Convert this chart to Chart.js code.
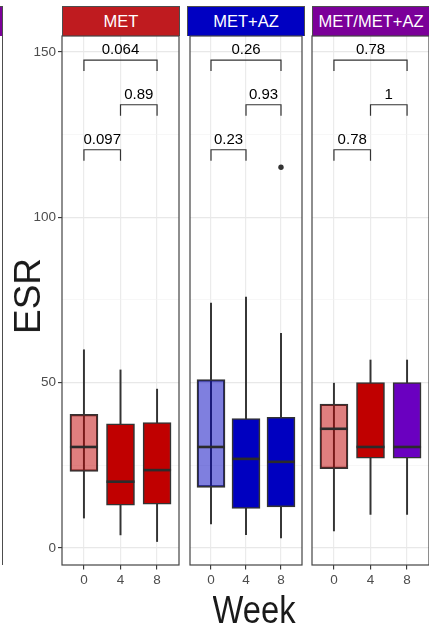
<!DOCTYPE html>
<html>
<head>
<meta charset="utf-8">
<script src="https://cdn.jsdelivr.net/npm/chart.js@4.4.1/dist/chart.umd.min.js"></script>
<style>
  html, body { margin: 0; padding: 0; background: #fff; }
  body { width: 429px; height: 627px; position: relative; overflow: hidden;
         font-family: 'Liberation Sans', Arial, sans-serif; }
  canvas { position: absolute; top: 20px; }
  .strip { position: absolute; top: 6px; height: 30px; box-sizing: border-box;
           border: 1px solid #4d4d4d; border-bottom: none; color: #fff;
           font-size: 16.5px; line-height: 29px; text-align: center; white-space: nowrap; overflow: hidden; }
  #edge { position: absolute; left: 2px; top: 36px; width: 1px; height: 529px; background: #4d4d4d; }
  #ytitle { position: absolute; left: 28px; top: 296px; transform: translate(-50%, -50%) rotate(-90deg);
            font-size: 37px; color: #1a1a1a; white-space: nowrap; }
  #xtitle { position: absolute; left: 254px; top: 591px; transform: translateX(-50%) scaleX(0.86);
            font-size: 38px; line-height: 38px; color: #1a1a1a; white-space: nowrap; }
</style>
</head>
<body>
<div class="strip" style="left:-120px;width:123px;background:#7b0099;"></div>
<div id="edge"></div>
<div class="strip" id="s0" style="left:62px;width:118px;"></div>
<div class="strip" id="s1" style="left:187px;width:118px;"></div>
<div class="strip" id="s2" style="left:312px;width:118px;"></div>
<canvas id="c0" width="180" height="590" style="left:0px"></canvas>
<canvas id="c1" width="120" height="590" style="left:186px"></canvas>
<canvas id="c2" width="120" height="590" style="left:311px"></canvas>
<div id="ytitle">ESR</div>
<div id="xtitle">Week</div>
<script>
// ESR by week of treatment, one facet per treatment group
const weeks = ['0', '4', '8'];
const groups = ['MET', 'MET+AZ', 'MET/MET+AZ'];

// box-plot statistics, rows = groups, columns = weeks
const lowerWhisker = [[9.0, 3.9, 1.9], [7.2, 4.0, 3.0], [5.1, 10.1, 10.1]];
const lowerQuartile = [[23.1, 12.9, 13.2], [18.3, 11.9, 12.4], [23.9, 27.1, 27.1]];
const medianValue = [[30.5, 20.0, 23.5], [30.5, 26.9, 26.0], [36.0, 30.5, 30.5]];
const upperQuartile = [[40.4, 37.5, 37.9], [50.9, 39.1, 39.5], [43.5, 50.0, 50.0]];
const upperWhisker = [[59.9, 53.8, 48.0], [74.0, 75.8, 64.9], [49.8, 56.8, 56.8]];

// points beyond the whiskers
const outlierGroup = [1];
const outlierWeek = [2];
const outlierValue = [115.1];

// pairwise week comparisons and their p-values
const comparisons = [[0, 1], [1, 2], [0, 2]];
const bracketHeight = [120.4, 134.0, 147.5];
const pValues = [['0.097', '0.89', '0.064'], ['0.23', '0.93', '0.26'], ['0.78', '1', '0.78']];

// y axis ticks
const yTicks = [0, 25, 50, 75, 100, 125, 150];
const yLabelled = [0, 50, 100, 150];

// ---- styling ----
const stripColors = ['#bf1b1f', '#0000c2', '#7b0099'];
const boxFills = [
  ['rgba(192,0,0,0.5)', '#c00000', '#c00000'],
  ['rgba(0,0,192,0.5)', '#0000c0', '#0000c0'],
  ['rgba(192,0,0,0.5)', '#c00000', '#6a00c0']
];
const ink = '#333333';
const tickFont = { family: "'Liberation Sans', Arial, sans-serif", size: 13.5 };
const tipDrop = 3.3;

groups.forEach((name, g) => {
  const s = document.getElementById('s' + g);
  s.textContent = name;
  s.style.background = stripColors[g];
});

function panelPlugin(g) {
  return {
    id: 'panelDecor' + g,
    afterDatasetsDraw(chart) {
      const { ctx, scales: { x, y } } = chart;
      const boxes = chart.getDatasetMeta(1).data;
      ctx.save();
      ctx.strokeStyle = '#2b2b2b';
      ctx.lineWidth = 2.6;
      weeks.forEach((w, i) => {
        const cx = x.getPixelForValue(i + 1);
        const half = boxes[i].width / 2;
        const py = y.getPixelForValue(medianValue[g][i]);
        ctx.beginPath();
        ctx.moveTo(cx - half, py);
        ctx.lineTo(cx + half, py);
        ctx.stroke();
      });
      ctx.restore();
    },
    afterDraw(chart) {
      const { ctx, chartArea: a, scales: { x, y } } = chart;
      ctx.save();
      // significance brackets
      ctx.strokeStyle = ink;
      ctx.lineWidth = 1.2;
      ctx.fillStyle = '#000';
      ctx.font = "15px 'Liberation Sans', Arial, sans-serif";
      ctx.textAlign = 'center';
      ctx.textBaseline = 'alphabetic';
      comparisons.forEach((pair, k) => {
        const x1 = x.getPixelForValue(pair[0] + 1);
        const x2 = x.getPixelForValue(pair[1] + 1);
        const yTop = y.getPixelForValue(bracketHeight[k]);
        const yLeg = y.getPixelForValue(bracketHeight[k] - tipDrop);
        ctx.beginPath();
        ctx.moveTo(x1, yLeg);
        ctx.lineTo(x1, yTop);
        ctx.lineTo(x2, yTop);
        ctx.lineTo(x2, yLeg);
        ctx.stroke();
        ctx.fillText(pValues[g][k], (x1 + x2) / 2, yTop - 6);
      });
      // panel frame
      ctx.strokeStyle = '#444';
      ctx.lineWidth = 1.2;
      ctx.strokeRect(a.left, a.top, a.right - a.left, a.bottom - a.top);
      ctx.restore();
    }
  };
}

function makePanel(g) {
  const first = g === 0;
  const datasets = [
    {
      type: 'bar',
      label: 'whisker',
      data: weeks.map((w, i) => ({ x: i + 1, y: [lowerWhisker[g][i], upperWhisker[g][i]] })),
      backgroundColor: ink,
      borderWidth: 0,
      barThickness: 1.3,
      grouped: false,
      order: 3
    },
    {
      type: 'bar',
      label: 'box',
      data: weeks.map((w, i) => ({ x: i + 1, y: [lowerQuartile[g][i], upperQuartile[g][i]] })),
      backgroundColor: boxFills[g],
      borderColor: ink,
      borderWidth: 1.6,
      borderSkipped: false,
      barThickness: 28,
      grouped: false,
      order: 2
    },
    {
      type: 'scatter',
      label: 'outlier',
      data: outlierGroup.map((og, j) => og === g ? { x: outlierWeek[j] + 1, y: outlierValue[j] } : null).filter(Boolean),
      pointRadius: 2.7,
      pointBackgroundColor: ink,
      pointBorderWidth: 0,
      order: 1
    }
  ];
  return new Chart(document.getElementById('c' + g), {
    type: 'bar',
    data: { datasets },
    options: {
      responsive: false,
      animation: false,
      events: [],
      layout: { padding: { top: 16, right: first ? 1 : 2, left: 0, bottom: 0 } },
      plugins: { legend: { display: false }, tooltip: { enabled: false } },
      scales: {
        x: {
          type: 'linear',
          min: 0.4,
          max: 3.6,
          offset: false,
          afterBuildTicks: (s) => { s.ticks = weeks.map((w, i) => ({ value: i + 1 })); },
          afterFit: (s) => { s.height = 45; },
          ticks: {
            callback: (v) => weeks[v - 1],
            autoSkip: false, maxRotation: 0,
            color: '#4d4d4d', font: tickFont, padding: 3
          },
          grid: { offset: false, color: '#ebebeb', lineWidth: 1.2, tickColor: ink, tickLength: 4.5, tickWidth: 1.1 },
          border: { display: false }
        },
        y: {
          type: 'linear',
          min: -5.2,
          max: 154.8,
          afterBuildTicks: (s) => { s.ticks = yTicks.map((v) => ({ value: v })); },
          afterFit: (s) => { s.width = first ? 62 : 1; },
          ticks: {
            display: first,
            callback: (v) => (yLabelled.includes(v) ? String(v) : ''),
            color: '#4d4d4d', font: tickFont, padding: 2
          },
          grid: {
            color: (c) => (yLabelled.includes(c.tick && c.tick.value) ? '#e8e8e8' : '#f2f2f2'),
            lineWidth: (c) => (yLabelled.includes(c.tick && c.tick.value) ? 1.2 : 0.6),
            drawTicks: first,
            tickColor: (c) => (yLabelled.includes(c.tick && c.tick.value) ? ink : 'rgba(0,0,0,0)'),
            tickLength: 4,
            tickWidth: 1.1
          },
          border: { display: false }
        }
      }
    },
    plugins: [panelPlugin(g)]
  });
}

groups.forEach((name, g) => makePanel(g));
</script>
</body>
</html>
